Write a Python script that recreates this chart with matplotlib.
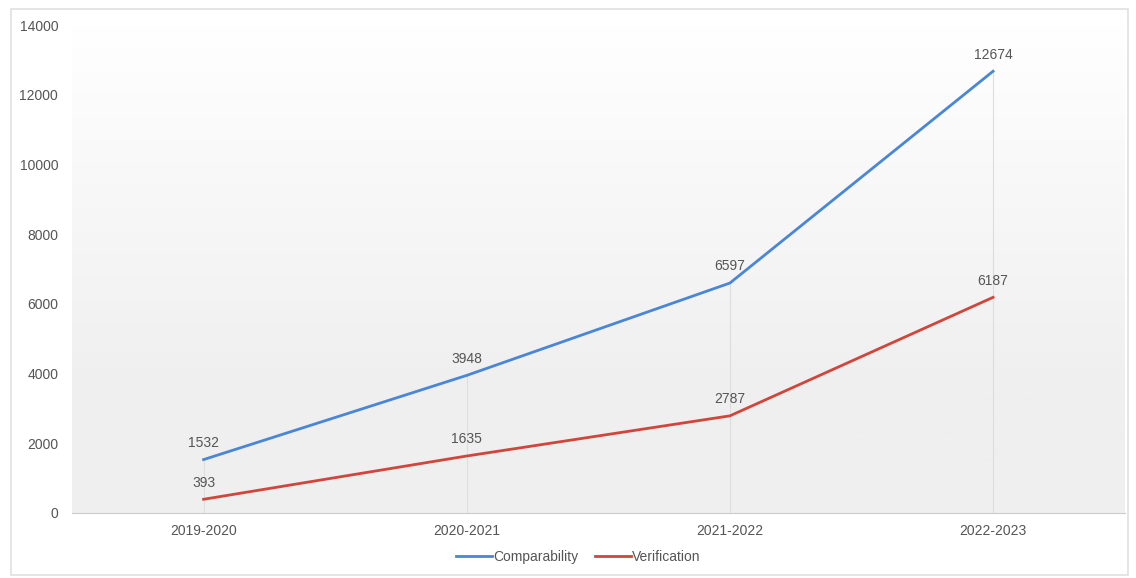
import matplotlib.pyplot as plt
import numpy as np
from matplotlib.patches import Rectangle
from matplotlib.colors import LinearSegmentedColormap

years = ['2019-2020', '2020-2021', '2021-2022', '2022-2023']
comparability = [1532, 3948, 6597, 12674]
verification = [393, 1635, 2787, 6187]

plt.rcParams['font.family'] = ['Liberation Sans', 'DejaVu Sans']
txt = '#555555'

fig = plt.figure(figsize=(11.36, 5.78), dpi=100)
ax = fig.add_axes([0.0634, 0.1125, 0.9266, 0.8442])

x = np.arange(len(years))
ax.set_xlim(-0.5, len(years) - 0.5)
ax.set_ylim(0, 14000)

# soft gradient background, white on top to light grey at the bottom
grad = np.linspace(0, 1, 256).reshape(-1, 1)
grad = np.clip((grad - 0.25) / 0.75, 0, 1)
cmap = LinearSegmentedColormap.from_list('bg', ['#efefef', '#ffffff'])
ax.imshow(grad, extent=[-0.5, len(years) - 0.5, 0, 14000], origin='lower',
          aspect='auto', cmap=cmap, zorder=0)

# drop lines
tops = [max(a, b) for a, b in zip(comparability, verification)]
ax.vlines(x, 0, tops, color='#dddddd', lw=0.8, zorder=1)

ax.plot(x, comparability, color='#4a86d8', lw=2, label='Comparability', zorder=3)
ax.plot(x, verification, color='#d2453b', lw=2, label='Verification', zorder=3)

for xi, v in zip(x, comparability):
    ax.annotate(str(v), (xi, v), xytext=(0, 7), textcoords='offset points',
                ha='center', va='bottom', fontsize=10, color=txt)
for xi, v in zip(x, verification):
    ax.annotate(str(v), (xi, v), xytext=(0, 7), textcoords='offset points',
                ha='center', va='bottom', fontsize=10, color=txt)

ax.set_xticks(x)
ax.set_xticklabels(years)
ax.set_yticks(range(0, 14001, 2000))
ax.tick_params(axis='both', length=0, labelsize=10, labelcolor=txt)
ax.tick_params(axis='x', pad=8)
ax.tick_params(axis='y', pad=10)
for s in ['top', 'right', 'left']:
    ax.spines[s].set_visible(False)
ax.spines['bottom'].set_color('#cccccc')

leg = fig.legend(loc='center', bbox_to_anchor=(0.509, 0.036), ncol=2, frameon=False,
                 fontsize=10, handlelength=2.6, handletextpad=0.1, columnspacing=1.2)
for t in leg.get_texts():
    t.set_color(txt)

fig.patches.append(Rectangle((11 / 1136, 3 / 578), 1117 / 1136, 566 / 578,
                             transform=fig.transFigure, fill=False,
                             edgecolor='#e0e0e0', lw=1.2))

fig.savefig('out.png', dpi=100)
